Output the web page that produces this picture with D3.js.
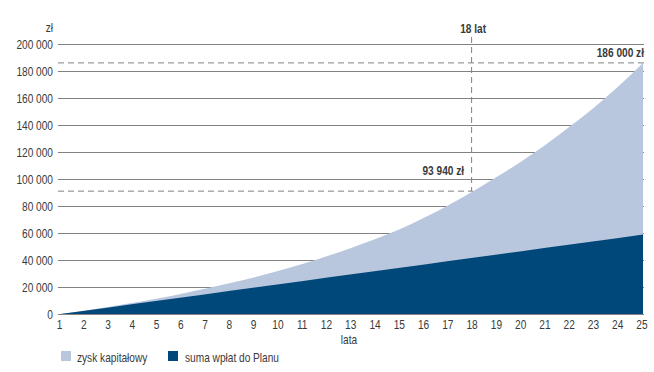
<!DOCTYPE html>
<html>
<head>
<meta charset="utf-8">
<script src="https://cdn.jsdelivr.net/npm/d3@7"></script>
<style>
  body { margin: 0; background: #fff; }
  svg { display: block; font-family: "Liberation Sans", Arial, sans-serif; }
</style>
</head>
<body>
<svg id="chart" width="654" height="372"></svg>
<script>
// lata
var years = [1,2,3,4,5,6,7,8,9,10,11,12,13,14,15,16,17,18,19,20,21,22,23,24,25];
// suma wpłat do Planu
var contributions = [0,2450,4900,7350,9800,12250,14700,17150,19600,22050,24500,26950,29400,
   31850,34300,36750,39200,41650,44100,46550,49000,51450,53900,56350,58800];
// wartość całkowita (wpłaty + zysk kapitałowy)
var totals = [0,2500,5300,8300,11500,15000,18800,22900,27300,32100,37300,43000,49100,
   55800,63000,71500,80800,91000,101800,113200,125600,139000,153200,168800,186000];
var yTicks = [0,20000,40000,60000,80000,100000,120000,140000,160000,180000,200000];
var legendLabels = ["zysk kapitałowy", "suma wpłat do Planu"];
var markYear = 18;
var markLabel = "93 940 zł";
var endLabel = "186 000 zł";

var lightColor = "#b8c7de";
var darkColor = "#00477a";
var gridColor = "#828282";
var textColor = "#3a3a3a";
var fontSize = 13;
var squeeze = 0.78;   // condensed look

var svg = d3.select("#chart");

var x = d3.scaleLinear().domain([1, 25]).range([60.5, 643]);
var y = d3.scaleLinear().domain([0, 200000]).range([314, 44]);

var fmt = function(v) {
   return d3.format(",")(v).replace(/,/g, " ");
};

// place narrow text at (px, py)
function placeText(sel, px, py) {
   sel.attr("font-size", fontSize)
      .attr("transform", function(d, i) {
         var tx = typeof px === "function" ? px(d, i) : px;
         var ty = typeof py === "function" ? py(d, i) : py;
         return "translate(" + tx + "," + ty + ") scale(" + squeeze + ",1)";
      });
   return sel;
}

// gridlines
svg.append("g")
   .selectAll("line")
   .data(yTicks)
   .enter()
   .append("line")
   .attr("x1", 58)
   .attr("x2", 644)
   .attr("y1", function(d){ return y(d) + 0.5; })
   .attr("y2", function(d){ return y(d) + 0.5; })
   .attr("stroke", gridColor)
   .attr("stroke-width", 1);

// y labels
placeText(svg.append("g")
   .selectAll("text")
   .data(yTicks)
   .enter()
   .append("text")
   .attr("text-anchor", "end")
   .attr("fill", textColor)
   .text(function(d){ return fmt(d); }), 53, function(d){ return y(d) + 4.5; });

placeText(svg.append("text")
   .attr("text-anchor", "end")
   .attr("fill", textColor)
   .text("zł"), 53, 32);

var rows = years.map(function(yr, i) {
   return { year: yr, total: totals[i], paid: contributions[i] };
});

var areaTotal = d3.area()
   .x(function(d){ return x(d.year); })
   .y0(y(0))
   .y1(function(d){ return y(d.total); })
   .curve(d3.curveMonotoneX);

var areaPaid = d3.area()
   .x(function(d){ return x(d.year); })
   .y0(y(0))
   .y1(function(d){ return y(d.paid); });

svg.append("path")
   .datum(rows)
   .attr("d", areaTotal)
   .attr("fill", lightColor);

svg.append("path")
   .datum(rows)
   .attr("d", areaPaid)
   .attr("fill", darkColor);

// x axis labels
placeText(svg.append("g")
   .selectAll("text")
   .data(years)
   .enter()
   .append("text")
   .attr("text-anchor", "middle")
   .attr("fill", textColor)
   .text(function(d){ return d; }), function(d){ return x(d) - 1; }, 329);

placeText(svg.append("text")
   .attr("text-anchor", "middle")
   .attr("fill", textColor)
   .text("lata"), 349, 344);

// dashed markers
var markTotal = totals[years.indexOf(markYear)];
var endTotal = totals[totals.length - 1];

svg.append("line")
   .attr("x1", 58).attr("x2", x(markYear))
   .attr("y1", y(markTotal)).attr("y2", y(markTotal))
   .attr("stroke", gridColor).attr("stroke-dasharray", "6,4");

svg.append("line")
   .attr("x1", 58).attr("x2", 644)
   .attr("y1", y(endTotal)).attr("y2", y(endTotal))
   .attr("stroke", gridColor).attr("stroke-dasharray", "6,4");

svg.append("line")
   .attr("x1", x(markYear) - 1.5).attr("x2", x(markYear) - 1.5)
   .attr("y1", 37).attr("y2", y(markTotal))
   .attr("stroke", gridColor).attr("stroke-dasharray", "6,4");

placeText(svg.append("text")
   .attr("text-anchor", "middle")
   .attr("font-weight", "bold")
   .attr("fill", textColor)
   .text(markYear + " lat"), x(markYear), 33);

placeText(svg.append("text")
   .attr("text-anchor", "end")
   .attr("font-weight", "bold")
   .attr("fill", textColor)
   .text(endLabel), 644, y(endTotal) - 6);

placeText(svg.append("text")
   .attr("text-anchor", "end")
   .attr("font-weight", "bold")
   .attr("fill", textColor)
   .text(markLabel), x(markYear) - 9, y(markTotal) - 16);

// legend
var legend = svg.append("g")
   .selectAll("g")
   .data(legendLabels)
   .enter()
   .append("g")
   .attr("transform", function(d, i){ return "translate(" + (i === 0 ? 61 : 168) + ",351)"; });

legend.append("rect")
   .attr("width", 10)
   .attr("height", 10)
   .attr("fill", function(d, i){ return i === 0 ? lightColor : darkColor; });

placeText(legend.append("text")
   .attr("fill", textColor)
   .text(function(d){ return d; }), function(d, i){ return i === 0 ? 16 : 17; }, 10.5);
</script>
</body>
</html>
